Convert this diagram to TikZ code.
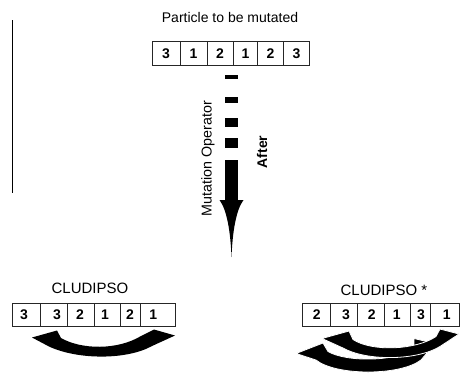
\documentclass[tikz,border=0pt]{standalone}
\usepackage{fontspec}
\setmainfont{Liberation Sans}
\begin{document}
\begin{tikzpicture}[x=1pt,y=-1pt,
  cell/.style={draw=black!85, line width=0.9pt, inner sep=0pt, minimum height=23.5pt},
  num/.style={font=\fontsize{14}{14}\selectfont\bfseries, inner sep=0pt},
  ttl/.style={font=\fontsize{14}{14}\selectfont, inner sep=0pt},
  blk/.style={fill=black, draw=none},
  curvy/.style={fill=black, draw=white, line width=0.8pt}]
\useasboundingbox (0,0) rectangle (460,373);

% left vertical rule
\coordinate (v1) at (12.3,20);
\coordinate (v2) at (12.3,193);
\draw[line width=1.2pt] (v1) -- (v2);

% title
\node[ttl] (title) at (230,17) {Particle to be mutated};

% top particle
\foreach \a/\b [count=\i] in {152.5/180, 180/207, 207/233.5, 233.5/257.5, 257.5/283.5, 283.5/309}
  \node[cell, minimum width={(\b-\a)*1pt}] (t\i) at ({(\a+\b)/2},53.3) {};
\foreach \x/\t [count=\i] in {166/3, 193.5/1, 220/2, 245.5/1, 270.5/2, 296.5/3}
  \node[num] (tn\i) at (\x,53.3) {\t};

% dashed arrow
\fill[blk] (225,75) rectangle (238,78.5);
\fill[blk] (225,96.5) rectangle (238,103);
\fill[blk] (225,118) rectangle (238,127);
\fill[blk] (225,138) rectangle (238,148);
\fill[blk] (225,160) rectangle (238,201);
\fill[blk] (219.5,200) .. controls (227,210) and (230.5,232) .. (231.5,257)
   .. controls (232.5,232) and (236,210) .. (243.5,200) -- cycle;

\node[ttl, rotate=90, font=\fontsize{14.3}{14}\selectfont] (mop) at (208,158.5) {Mutation Operator};
\node[ttl, rotate=90, font=\fontsize{14}{14}\selectfont\bfseries] (after) at (262,152) {After};

% bottom left
\node[ttl, font=\fontsize{15}{15}\selectfont] (cl) at (90,288) {CLUDIPSO};
\foreach \a/\b [count=\i] in {12.7/40.5, 40.5/67.3, 67.3/94, 94/120.7, 120.7/140.7, 140.7/175.5}
  \node[cell, minimum width={(\b-\a)*1pt}] (l\i) at ({(\a+\b)/2},315) {};
\foreach \x/\t [count=\i] in {24/3, 57/3, 80/2, 105/1, 130/2, 153.3/1}
  \node[num] (ln\i) at (\x,315) {\t};

\fill[blk] (32,337.5) -- (57,330.5) -- (61,338) .. controls (82,350) and (118,350) .. (141,336)
   -- (154,329.5) -- (175,335.5) -- (152,346) .. controls (127,360) and (78,360) .. (49,346.5) -- cycle;

% bottom right
\node[ttl, font=\fontsize{15}{15}\selectfont] (cs) at (384,290) {CLUDIPSO *};
\foreach \a/\b [count=\i] in {302.7/330.7, 330.7/357.3, 357.3/384, 384/410.7, 410.7/430.7, 430.7/459.5}
  \node[cell, minimum width={(\b-\a)*1pt}] (r\i) at ({(\a+\b)/2},315) {};
\foreach \x/\t [count=\i] in {316.7/2, 346/3, 371.7/2, 396.7/1, 421/3, 446.7/1}
  \node[num] (rn\i) at (\x,315) {\t};

\filldraw[curvy] (296,353.5) -- (323,343) -- (328,351.5) .. controls (346,362) and (394,362) .. (414,349)
   -- (414,338.5) -- (435,343.5) -- (421,360) .. controls (400,376) and (336,376) .. (316,360) -- cycle;
\filldraw[curvy] (322,338.5) -- (349,331) -- (353,339.5) .. controls (372,352) and (416,350) .. (436,336.5)
   -- (440,329) -- (459,334) -- (440,346.5) .. controls (416,361) and (366,361) .. (343,348) -- cycle;
\end{tikzpicture}
\end{document}
